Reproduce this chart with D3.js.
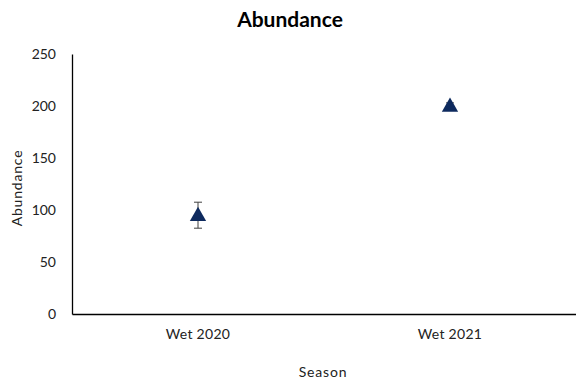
<!DOCTYPE html>
<html><head><meta charset="utf-8">
<script src="https://cdn.jsdelivr.net/npm/d3@7"></script>
<style>body{margin:0;background:#fff}svg{display:block;font-family:Lato,"Open Sans",sans-serif}</style>
</head><body>
<svg id="c" width="576" height="385"></svg>
<script>
const categories = ["Wet 2020", "Wet 2021"];
const values = [95, 200];
const errors = [12.5, 3];
const yTicks = [0, 50, 100, 150, 200, 250];

const svg = d3.select("#c");
const m = {l: 72, r: 0, t: 54, b: 71};
const W = 576, H = 385;
const x = d3.scaleBand().domain(categories).range([m.l, W - m.r]);
const y = d3.scaleLinear().domain([0, 250]).range([H - m.b, m.t]);

svg.append("text").attr("x", 290).attr("y", 27).attr("text-anchor", "middle")
  .attr("font-size", 21).attr("font-weight", "bold").attr("fill", "#000").text("Abundance");

const yAxis = svg.append("g").attr("transform", `translate(${m.l},0)`)
  .call(d3.axisLeft(y).tickValues(yTicks).tickSize(0).tickPadding(16));
yAxis.select(".domain").attr("stroke", "#000").attr("stroke-width", 1.3);
yAxis.selectAll("text").attr("font-size", 14).attr("fill", "#222").attr("font-family", "Lato,sans-serif");

const xAxis = svg.append("g").attr("transform", `translate(0,${H - m.b})`)
  .call(d3.axisBottom(x).tickSize(0).tickPadding(15));
xAxis.select(".domain").attr("stroke", "#000").attr("stroke-width", 1.3);
xAxis.selectAll("text").attr("font-size", 14).attr("letter-spacing", 0.3).attr("fill", "#222").attr("font-family", "Lato,sans-serif");

svg.append("text").attr("transform", "translate(22,188) rotate(-90)").attr("text-anchor", "middle")
  .attr("font-size", 14).attr("letter-spacing", 0.8).attr("fill", "#222").text("Abundance");
svg.append("text").attr("x", 323).attr("y", 377).attr("text-anchor", "middle")
  .attr("font-size", 14).attr("letter-spacing", 0.8).attr("fill", "#222").text("Season");

const g = svg.append("g");
categories.forEach((c, i) => {
  const cx = x(c) + x.bandwidth() / 2;
  const v = values[i], e = errors[i];
  g.append("line").attr("x1", cx).attr("x2", cx).attr("y1", y(v + e)).attr("y2", y(v - e)).attr("stroke", "#404040").attr("stroke-width", 1);
  [v + e, v - e].forEach(t => g.append("line").attr("x1", cx - 4).attr("x2", cx + 4).attr("y1", y(t)).attr("y2", y(t)).attr("stroke", "#404040").attr("stroke-width", 1));
  g.append("path").attr("d", d3.symbol().type(d3.symbolTriangle).size(115)())
    .attr("transform", `translate(${cx},${y(v) + 1})`).attr("fill", "#0e2a5e");
});
</script>
</body></html>
